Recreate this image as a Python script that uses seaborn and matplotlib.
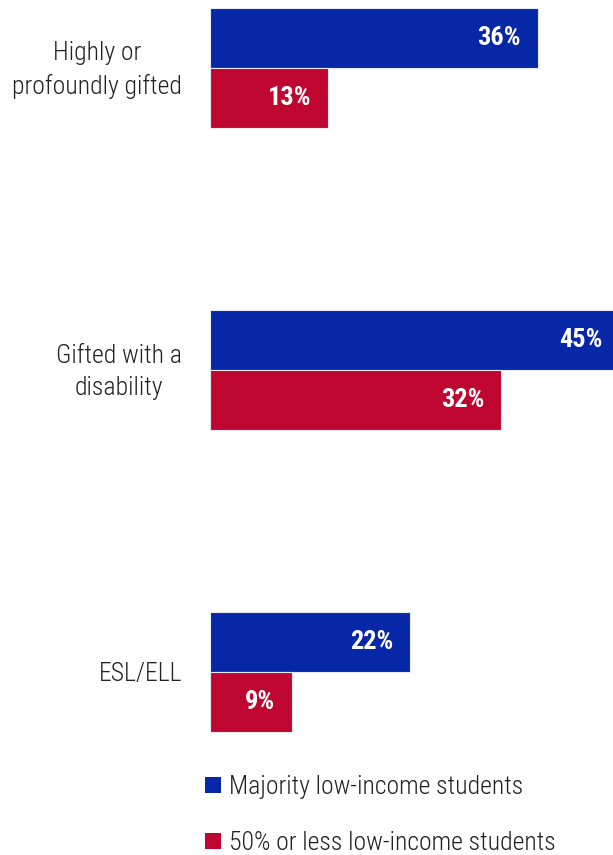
import matplotlib
matplotlib.use("Agg")
import matplotlib.pyplot as plt
import matplotlib.transforms as mtransforms
from matplotlib import font_manager
from matplotlib.patches import Patch
import seaborn as sns
import pandas as pd

# --- data -------------------------------------------------------------
categories = ["Highly or\nprofoundly gifted", "Gifted with a\ndisability", "ESL/ELL"]
majority_low_income = [36, 45, 22]
half_or_less_low_income = [13, 32, 9]
groups = ["Majority low-income students", "50% or less low-income students"]

BLUE = "#0527A8"
RED = "#BF0630"

# --- fonts: prefer a condensed sans ----------------------------------
available = {f.name for f in font_manager.fontManager.ttflist}
family = "Roboto"
for cand in ["Roboto Condensed", "Liberation Sans Narrow", "Roboto"]:
    if cand in available:
        family = cand
        break

sns.set_theme(style="white")
plt.rcParams["font.family"] = [family, "DejaVu Sans"]

df = pd.DataFrame({
    "category": categories * 2,
    "pct": majority_low_income + half_or_less_low_income,
    "group": [groups[0]] * 3 + [groups[1]] * 3,
})

W, H, DPI = 613, 855, 100
fig = plt.figure(figsize=(W / DPI, H / DPI), dpi=DPI)
fig.patch.set_facecolor("white")

# axes: left edge where bars start, top of the chart to just below last bar
ax_left, ax_top, ax_bottom = 210, 0, 740
ax = fig.add_axes([ax_left / W, 1 - ax_bottom / H, (W - ax_left) / W, (ax_bottom - ax_top) / H])

sns.barplot(data=df, y="category", x="pct", hue="group", orient="h",
            palette=[BLUE, RED], saturation=1, width=0.4,
            edgecolor="#e6e8f2", linewidth=0.8, ax=ax, legend=False)

px_per_unit = 9.1
ax.set_xlim(0, (W - ax_left) / px_per_unit)
row_px = 302
ax.set_ylim((ax_bottom - 68) / row_px, -68 / row_px)
ax.axis("off")

# value labels inside the bar ends
for cont in ax.containers:
    texts = ax.bar_label(cont, fmt="{:.0f}%", label_type="edge", padding=-12,
                         color="white", fontsize=19, fontweight="bold",
                         annotation_clip=False)
    for t in texts:
        t.set_ha("right")

# category labels to the left of each group, right-aligned as a block
label_right_px = 182
trans = mtransforms.blended_transform_factory(fig.transFigure, ax.transData)
for i, lab in enumerate(categories):
    ax.text(label_right_px / W, i + 0.006, lab, transform=trans, ha="right", va="center",
            multialignment="center", fontsize=18.5, fontweight="light",
            color="#222222", linespacing=1.42)

# legend
handles = [Patch(facecolor=BLUE, edgecolor="none"), Patch(facecolor=RED, edgecolor="none")]
fig.legend(handles, groups, loc="upper left", bbox_to_anchor=(205 / W, 1 - 775 / H),
           frameon=False, handlelength=0.62, handleheight=0.62, handletextpad=0.3,
           labelspacing=1.25, borderaxespad=0, borderpad=0,
           prop={"size": 18.5, "weight": "light"}, labelcolor="#222222")

fig.savefig("out.png", dpi=DPI, facecolor="white")
